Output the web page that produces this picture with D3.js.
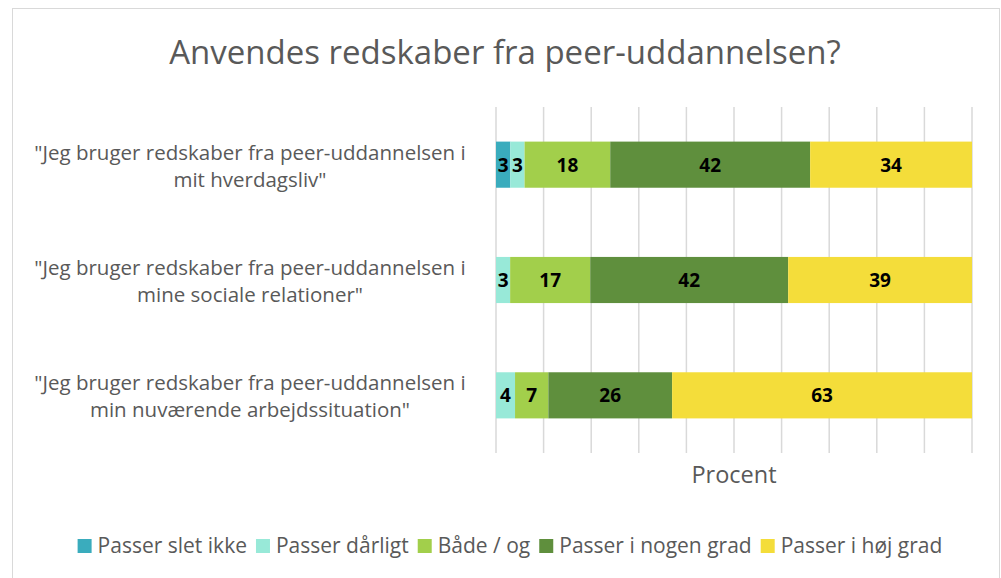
<!DOCTYPE html>
<html>
<head>
<meta charset="utf-8">
<script src="https://cdn.jsdelivr.net/npm/d3@7"></script>
<style>
  body { margin: 0; background: #fff; }
  svg text { font-family: "Open Sans", "Noto Sans", sans-serif; }
</style>
</head>
<body>
<div id="chart"></div>
<script>
// chart data
var categories = [
  ['"Jeg bruger redskaber fra peer-uddannelsen i', 'mit hverdagsliv"'],
  ['"Jeg bruger redskaber fra peer-uddannelsen i', 'mine sociale relationer"'],
  ['"Jeg bruger redskaber fra peer-uddannelsen i', 'min nuværende arbejdssituation"']
];
var seriesNames = ["Passer slet ikke", "Passer dårligt", "Både / og", "Passer i nogen grad", "Passer i høj grad"];
var slet = [3, 0, 0];
var daarligt = [3, 3, 4];
var baade = [18, 17, 7];
var nogen = [42, 42, 26];
var hoej = [34, 39, 63];
var colors = ["#3aacbd", "#98e9d8", "#a2cf4b", "#5f8f3d", "#f4dd3a"];

var width = 1001, height = 578;
var margin = { top: 107, right: 29, bottom: 125, left: 496 };

var svg = d3.select("#chart").append("svg")
  .attr("width", width)
  .attr("height", height);

// outer frame
svg.append("rect")
  .attr("x", 12.5).attr("y", 8.5)
  .attr("width", 987).attr("height", 590)
  .attr("fill", "#fff")
  .attr("stroke", "#d9d9d9");

var values = [slet, daarligt, baade, nogen, hoej];
var rows = categories.map(function(c, i) {
  var r = { idx: i };
  seriesNames.forEach(function(s, k) { r[s] = values[k][i]; });
  return r;
});

// 100% stacked: normalise each row
var stack = d3.stack().keys(seriesNames).offset(d3.stackOffsetExpand);
var stacked = stack(rows);

var x = d3.scaleLinear().domain([0, 1]).range([margin.left, width - margin.right]);
var y = d3.scaleBand().domain(d3.range(categories.length))
  .range([margin.top, height - margin.bottom])
  .paddingInner(0.6).paddingOuter(0.3);

// gridlines
svg.append("g")
  .selectAll("line")
  .data(x.ticks(10))
  .join("line")
  .attr("x1", function(d) { return x(d); })
  .attr("x2", function(d) { return x(d); })
  .attr("y1", margin.top)
  .attr("y2", height - margin.bottom)
  .attr("stroke", "#d9d9d9")
  .attr("stroke-width", 1.5);

// bars
var layer = svg.append("g")
  .selectAll("g")
  .data(stacked)
  .join("g")
  .attr("fill", function(d, i) { return colors[i]; });

layer.selectAll("rect")
  .data(function(d) { return d; })
  .join("rect")
  .attr("x", function(d) { return x(d[0]); })
  .attr("width", function(d) { return x(d[1]) - x(d[0]); })
  .attr("y", function(d) { return y(d.data.idx); })
  .attr("height", y.bandwidth());

// value labels
layer.each(function(s) {
  d3.select(this).selectAll("text")
    .data(s.filter(function(d) { return d.data[s.key] > 0; }))
    .join("text")
    .attr("x", function(d) { return (x(d[0]) + x(d[1])) / 2; })
    .attr("y", function(d) { return y(d.data.idx) + y.bandwidth() / 2; })
    .attr("dy", "0.36em")
    .attr("text-anchor", "middle")
    .attr("fill", "#000")
    .attr("font-size", 19)
    .attr("font-weight", "bold")
    .text(function(d) { return d.data[s.key]; });
});

// category labels
var cat = svg.append("g")
  .selectAll("text")
  .data(categories)
  .join("text")
  .attr("text-anchor", "middle")
  .attr("fill", "#595959")
  .attr("font-size", 20.5)
  .attr("y", function(d, i) { return y(i) + y.bandwidth() / 2 - 5; });

cat.selectAll("tspan")
  .data(function(d) { return d; })
  .join("tspan")
  .attr("x", 250)
  .attr("dy", function(d, i) { return i === 0 ? 0 : 27; })
  .text(function(d) { return d; });

// title
svg.append("text")
  .attr("x", 505).attr("y", 64)
  .attr("text-anchor", "middle")
  .attr("fill", "#595959")
  .attr("font-size", 33)
  .text("Anvendes redskaber fra peer-uddannelsen?");

// axis title
svg.append("text")
  .attr("x", (x(0) + x(1)) / 2).attr("y", 483)
  .attr("text-anchor", "middle")
  .attr("fill", "#595959")
  .attr("font-size", 23.5)
  .text("Procent");

// legend, laid out in a row and centred
var legend = svg.append("g");
var item = legend.selectAll("g")
  .data(seriesNames)
  .join("g");
item.append("rect")
  .attr("x", 0).attr("y", -7)
  .attr("width", 14).attr("height", 14)
  .attr("fill", function(d, i) { return colors[i]; });
item.append("text")
  .attr("x", 20).attr("y", 0)
  .attr("dy", "0.35em")
  .attr("fill", "#595959")
  .attr("font-size", 21)
  .text(function(d) { return d; });

var pos = 0, offs = [];
item.each(function() {
  offs.push(pos);
  pos += 20 + d3.select(this).select("text").node().getComputedTextLength() + 9;
});
var start = 510 - (pos - 9) / 2;
item.attr("transform", function(d, i) { return "translate(" + (start + offs[i]) + ",0)"; });
legend.attr("transform", "translate(0,546)");
</script>
</body>
</html>
